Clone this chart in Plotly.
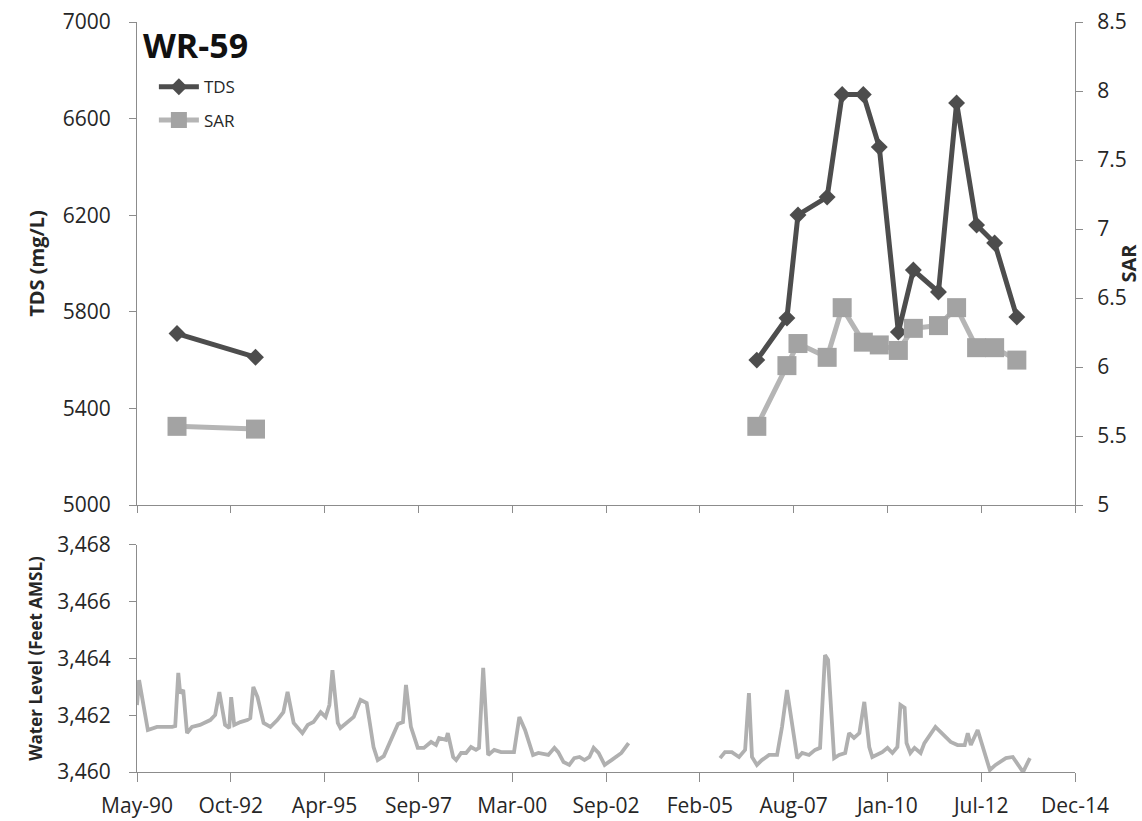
import pandas as pd
import plotly.graph_objects as go

# ---- TDS / SAR sampling (two monitoring periods) ----
early_dates = ["1991-05-26", "1993-06-17"]
early_tds = [5710, 5612]
early_sar = [5.57, 5.55]

late_dates = ["2006-08-18", "2007-06-03", "2007-09-17", "2008-06-23", "2008-11-14",
              "2009-06-05", "2009-11-05", "2010-05-07", "2010-09-28", "2011-05-27",
              "2011-11-17", "2012-05-27", "2012-11-16", "2013-06-17"]
late_tds = [5600, 5774, 6201, 6275, 6700, 6700, 6482, 5716, 5973, 5882, 6665, 6159, 6085, 5778]
late_sar = [5.57, 6.01, 6.17, 6.07, 6.43, 6.18, 6.16, 6.12, 6.28, 6.30, 6.43, 6.14, 6.14, 6.05]

# ---- Water level record (decimal year, feet AMSL) ----
wl1_year = [1990.345, 1990.40, 1990.63, 1990.87, 1991.27, 1991.35, 1991.43, 1991.48, 1991.56,
            1991.66, 1991.79, 1992.00, 1992.27, 1992.40, 1992.51, 1992.66, 1992.77, 1992.82,
            1992.90, 1993.06, 1993.24, 1993.32, 1993.40, 1993.51, 1993.67, 1993.85, 1994.03,
            1994.19, 1994.30, 1994.46, 1994.69, 1994.83, 1994.98, 1995.17, 1995.30, 1995.40,
            1995.48, 1995.62, 1995.69, 1995.88, 1996.04, 1996.22, 1996.38, 1996.56, 1996.67,
            1996.83, 1997.01, 1997.20, 1997.33, 1997.41, 1997.54, 1997.72, 1997.88, 1998.07,
            1998.20, 1998.28, 1998.46, 1998.51, 1998.65, 1998.73, 1998.86, 1998.99, 1999.12,
            1999.25, 1999.33, 1999.44, 1999.57, 1999.73, 1999.91, 2000.25, 2000.39, 2000.54,
            2000.75, 2000.89, 2001.15, 2001.31, 2001.41, 2001.55, 2001.70, 2001.83, 2001.97,
            2002.10, 2002.23, 2002.34, 2002.47, 2002.63, 2002.81, 2003.07, 2003.26]
wl1_level = [3462.36, 3463.24, 3461.48, 3461.59, 3461.59, 3461.62, 3463.49, 3462.78, 3462.89,
             3461.37, 3461.59, 3461.66, 3461.83, 3462.01, 3462.82, 3461.66, 3461.55, 3462.64,
             3461.66, 3461.76, 3461.83, 3461.90, 3463.00, 3462.64, 3461.73, 3461.59, 3461.83,
             3462.11, 3462.82, 3461.73, 3461.37, 3461.66, 3461.76, 3462.11, 3461.94, 3462.36,
             3463.59, 3461.73, 3461.55, 3461.76, 3461.94, 3462.54, 3462.43, 3460.88, 3460.42,
             3460.56, 3461.13, 3461.69, 3461.76, 3463.07, 3461.59, 3460.85, 3460.85, 3461.06,
             3460.95, 3461.20, 3461.13, 3461.37, 3460.53, 3460.42, 3460.67, 3460.67, 3460.88,
             3460.78, 3460.85, 3463.67, 3460.60, 3460.78, 3460.70, 3460.70, 3461.94, 3461.48,
             3460.60, 3460.67, 3460.60, 3460.85, 3460.70, 3460.35, 3460.25, 3460.49, 3460.53,
             3460.42, 3460.53, 3460.85, 3460.67, 3460.25, 3460.42, 3460.67, 3461.02]

wl2_year = [2005.66, 2005.79, 2005.97, 2006.16, 2006.32, 2006.42, 2006.50, 2006.63, 2006.76,
            2006.95, 2007.16, 2007.29, 2007.42, 2007.69, 2007.82, 2008.00, 2008.16, 2008.29,
            2008.42, 2008.50, 2008.66, 2008.79, 2008.95, 2009.05, 2009.18, 2009.32, 2009.45,
            2009.58, 2009.66, 2009.79, 2009.92, 2010.06, 2010.19, 2010.32, 2010.40, 2010.51,
            2010.56, 2010.66, 2010.77, 2010.93, 2011.03, 2011.32, 2011.72, 2011.90, 2012.09,
            2012.17, 2012.25, 2012.43, 2012.75, 2012.90, 2013.17, 2013.35, 2013.62, 2013.80]
wl2_level = [3460.49, 3460.70, 3460.70, 3460.53, 3460.78, 3462.78, 3460.53, 3460.25, 3460.42,
             3460.60, 3460.60, 3461.59, 3462.89, 3460.49, 3460.67, 3460.60, 3460.78, 3460.85,
             3464.12, 3463.95, 3460.49, 3460.60, 3460.67, 3461.37, 3461.20, 3461.37, 3462.47,
             3460.88, 3460.53, 3460.60, 3460.70, 3460.85, 3460.67, 3460.88, 3462.36, 3462.26,
             3461.02, 3460.67, 3460.85, 3460.67, 3461.02, 3461.59, 3461.06, 3460.95, 3460.95,
             3461.37, 3460.95, 3461.48, 3460.07, 3460.25, 3460.49, 3460.53, 3460.00, 3460.49]

# ---- shared date axis ----
tick_dates = ["1990-05-07", "1992-10-23", "1995-04-11", "1997-09-28", "2000-03-15", "2002-09-01",
              "2005-02-17", "2007-08-06", "2010-01-22", "2012-07-10", "2014-12-27"]
tick_labels = ["May-90", "Oct-92", "Apr-95", "Sep-97", "Mar-00", "Sep-02",
               "Feb-05", "Aug-07", "Jan-10", "Jul-12", "Dec-14"]


def to_dates(years):
    out = []
    for y in years:
        yr = int(y)
        out.append(pd.Timestamp(yr, 1, 1) + pd.Timedelta(days=(y - yr) * 365.25))
    return out


FONT = "Open Sans"
AXIS_COL = "#8c8c8c"
TXT = "#262626"
TDS_COL = "#4d4d4d"
SAR_COL = "#a3a3a3"
WL_COL = "#b0b0b0"

fig = go.Figure()

# TDS
fig.add_trace(go.Scatter(x=early_dates, y=early_tds, name="TDS", legendgroup="tds",
                         mode="lines+markers", line=dict(color=TDS_COL, width=5),
                         marker=dict(symbol="diamond", size=13, color=TDS_COL),
                         xaxis="x", yaxis="y"))
fig.add_trace(go.Scatter(x=late_dates, y=late_tds, name="TDS", legendgroup="tds", showlegend=False,
                         mode="lines+markers", line=dict(color=TDS_COL, width=5),
                         marker=dict(symbol="diamond", size=13, color=TDS_COL),
                         xaxis="x", yaxis="y"))
# SAR
fig.add_trace(go.Scatter(x=early_dates, y=early_sar, name="SAR", legendgroup="sar",
                         mode="lines+markers", line=dict(color="#b5b5b5", width=5),
                         marker=dict(symbol="square", size=19, color=SAR_COL),
                         xaxis="x", yaxis="y2"))
fig.add_trace(go.Scatter(x=late_dates, y=late_sar, name="SAR", legendgroup="sar", showlegend=False,
                         mode="lines+markers", line=dict(color="#b5b5b5", width=5),
                         marker=dict(symbol="square", size=19, color=SAR_COL),
                         xaxis="x", yaxis="y2"))
# Water level
for yrs, lev in ((wl1_year, wl1_level), (wl2_year, wl2_level)):
    fig.add_trace(go.Scatter(x=to_dates(yrs), y=lev, mode="lines", showlegend=False,
                             line=dict(color=WL_COL, width=3.8), xaxis="x2", yaxis="y3"))

xrange = ["1990-05-07", "2014-12-27"]
common_axis = dict(showline=True, linecolor=AXIS_COL, linewidth=1, showgrid=False,
                   zeroline=False, ticks="outside", tickcolor=AXIS_COL, automargin=False,
                   tickfont=dict(family=FONT, size=21, color=TXT))

fig.update_layout(
    width=1142, height=821,
    margin=dict(l=137, r=67, t=22, b=49),
    paper_bgcolor="white", plot_bgcolor="white",
    font=dict(family=FONT, color=TXT),
    xaxis=dict(common_axis, domain=[0, 1], range=xrange, type="date", anchor="y",
               tickvals=tick_dates, showticklabels=False, ticklen=7),
    yaxis=dict(common_axis, domain=[0.356, 1], range=[5000, 7000], tick0=5000, dtick=400,
               ticklen=7, ticklabelstandoff=14,
               title=dict(text="<b>TDS (mg/L)</b>", font=dict(family=FONT, size=20, color=TXT),
                          standoff=12)),
    yaxis2=dict(common_axis, overlaying="y", side="right", anchor="x", range=[5, 8.5], dtick=0.5,
                ticklen=7, ticklabelstandoff=10,
                title=dict(text="<b>SAR</b>", font=dict(family=FONT, size=20, color=TXT),
                           standoff=0)),
    xaxis2=dict(common_axis, domain=[0, 1], range=xrange, type="date", anchor="y3",
                tickvals=tick_dates, ticktext=tick_labels, ticklen=9, ticklabelstandoff=6),
    yaxis3=dict(common_axis, domain=[0, 0.3027], range=[3460, 3468], dtick=2, tickformat=",",
                ticklen=7, ticklabelstandoff=14,
                title=dict(text="<b>Water Level (Feet AMSL)</b>",
                           font=dict(family=FONT, size=17, color=TXT), standoff=10)),
    legend=dict(x=0.018, y=0.937, xanchor="left", yanchor="top", bgcolor="rgba(0,0,0,0)",
                font=dict(family=FONT, size=17, color=TXT), traceorder="grouped",
                tracegroupgap=8, itemwidth=40),
    annotations=[dict(text="<b>WR-59</b>", x=0.004, y=1.003, xref="paper", yref="paper",
                      xanchor="left", yanchor="top", showarrow=False,
                      font=dict(family=FONT, size=34, color="#111111"))],
)

fig.write_html("out.html")
